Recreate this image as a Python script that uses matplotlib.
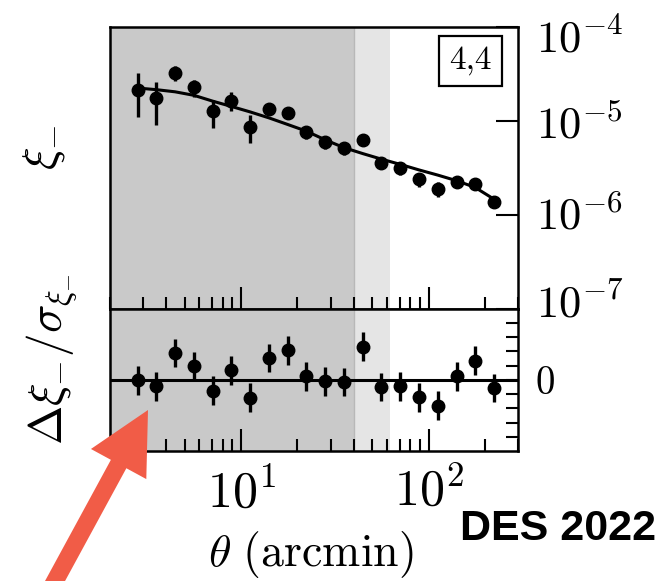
import matplotlib
matplotlib.use("Agg")
import matplotlib.pyplot as plt
import matplotlib.ticker as mticker
from matplotlib.patches import FancyArrow
from matplotlib.transforms import blended_transform_factory, offset_copy

# --- data -----------------------------------------------------------------
theta = [2.81, 3.54, 4.45, 5.61, 7.06, 8.89, 11.2, 14.1, 17.7, 22.3,
         28.1, 35.4, 44.5, 56.1, 70.6, 88.9, 112.0, 141.0, 177.0, 223.0]

xi_minus = [2.16e-5, 1.74e-5, 3.25e-5, 2.28e-5, 1.27e-5, 1.65e-5, 8.7e-6,
            1.35e-5, 1.22e-5, 7.6e-6, 6.0e-6, 5.1e-6, 6.2e-6, 3.6e-6,
            3.12e-6, 2.40e-6, 1.88e-6, 2.22e-6, 2.13e-6, 1.36e-6]

xi_minus_err = [1.06e-5, 0.84e-5, 0.60e-5, 0.48e-5, 0.42e-5, 0.37e-5, 0.29e-5,
                1.6e-6, 1.4e-6, 1.1e-6, 9.5e-7, 8.0e-7, 6.5e-7, 5.5e-7,
                4.7e-7, 4.0e-7, 3.3e-7, 2.7e-7, 2.2e-7, 1.5e-7]

xi_minus_model = [2.25e-5, 2.16e-5, 2.05e-5, 1.88e-5, 1.63e-5, 1.43e-5, 1.25e-5,
                  1.08e-5, 9.2e-6, 7.8e-6, 6.3e-6, 5.2e-6, 4.5e-6, 3.92e-6,
                  3.45e-6, 3.01e-6, 2.65e-6, 2.31e-6, 1.96e-6, 1.47e-6]

residual = [-0.05, -0.47, 1.89, 0.94, -0.76, 0.66, -1.25, 1.54, 2.06, 0.24,
            -0.12, -0.17, 2.32, -0.52, -0.47, -1.23, -1.82, 0.24, 1.35, -0.59]
residual_err = [1.0, 1.0, 1.0, 1.0, 1.0, 1.0, 1.0, 1.0, 1.0, 1.0,
                1.0, 1.0, 1.0, 1.0, 1.0, 1.0, 1.0, 1.0, 1.0, 1.0]

theta_range = [2.0, 300.0]
scale_cut_dark = 40.0      # arcmin, fully excluded scales
scale_cut_light = 62.5     # arcmin, additionally excluded scales

xi_ticks = [1e-4, 1e-5, 1e-6, 1e-7]
xi_tick_labels = [r"$10^{-4}$", r"$10^{-5}$", r"$10^{-6}$", r"$10^{-7}$"]
theta_ticks = [10, 100]
theta_tick_labels = [r"$10^{1}$", r"$10^{2}$"]
resid_ticks = [-4, -3, -2, -1, 0, 1, 2, 3, 4]
resid_tick_labels = ["", "", "", "", r"$0$", "", "", "", ""]
bin_label = "4,4"

# --- style ----------------------------------------------------------------
plt.rcParams["mathtext.fontset"] = "cm"
plt.rcParams["font.family"] = ["DejaVu Serif"]

W, H = 665, 581
fig = plt.figure(figsize=(W / 100, H / 100), dpi=100)

left, right = 110, 518
top_y, mid_y, bot_y = 27.3, 308.5, 451.0
ax_top = fig.add_axes([left / W, 1 - mid_y / H, (right - left) / W, (mid_y - top_y) / H])
ax_bot = fig.add_axes([left / W, 1 - bot_y / H, (right - left) / W, (bot_y - mid_y) / H],
                      sharex=ax_top)

dark_grey = "#c9c9c9"
light_grey = "#e5e5e5"
lw_spine = 1.8
maj_len, min_len, tick_w = 15.6, 8.4, 1.5
marker_size = 9
err_lw = 2.4

for ax in (ax_top, ax_bot):
    ax.set_xscale("log")
    ax.set_xlim(*theta_range)
    ax.axvspan(theta_range[0], scale_cut_dark, color=dark_grey, lw=0, zorder=0)
    ax.axvspan(scale_cut_dark, scale_cut_light, color=light_grey, lw=0, zorder=0)
    ax.axvline(scale_cut_dark, color="#b8b8b8", lw=1.0, zorder=0.5)
    for sp in ax.spines.values():
        sp.set_linewidth(lw_spine)
        sp.set_zorder(5)
    ax.tick_params(axis="x", which="major", direction="in", bottom=True, top=False,
                   length=maj_len, width=tick_w, color="k")
    ax.tick_params(axis="x", which="minor", direction="in", bottom=True, top=False,
                   length=min_len, width=tick_w, color="k")
    ax.xaxis.set_minor_locator(mticker.LogLocator(base=10, subs=range(2, 10), numticks=20))

# --- upper panel: xi_- ------------------------------------------------------
ax_top.set_yscale("log")
ax_top.set_ylim(1e-7, 1e-4)
ax_top.plot(theta, xi_minus_model, color="k", lw=2.2, zorder=2)
ax_top.errorbar(theta, xi_minus, yerr=xi_minus_err, fmt="o", color="k",
                ms=marker_size, elinewidth=err_lw, capsize=0, zorder=3)
ax_top.set_yticks(xi_ticks)
ax_top.yaxis.set_minor_locator(mticker.NullLocator())
ax_top.tick_params(axis="y", which="major", direction="in", left=False, right=True,
                   labelleft=False, labelright=False, length=maj_len, width=tick_w)
ax_top.tick_params(axis="x", labelbottom=False)

# right-hand decade labels, nudged vertically (offsets in points)
label_dy = [-17.8, -12.5, -10.8, -6.7]
trans = blended_transform_factory(ax_top.transAxes, ax_top.transData)
for val, lab, dy in zip(xi_ticks, xi_tick_labels, label_dy):
    ax_top.text(1.0, val, lab, fontsize=32, ha="left", va="baseline", clip_on=False,
                transform=offset_copy(trans, fig=fig, x=13.0, y=dy, units="points"))

ax_top.text(0.8836, 0.881, bin_label, transform=ax_top.transAxes, fontsize=24,
            fontfamily="cmr10", ha="center", va="center", zorder=6,
            bbox=dict(boxstyle="square,pad=0.32", fc="white", ec="k", lw=1.6))

# --- lower panel: residuals -------------------------------------------------
ax_bot.axhline(0, color="k", lw=2.2, zorder=2)
ax_bot.errorbar(theta, residual, yerr=residual_err, fmt="o", color="k",
                ms=marker_size, elinewidth=err_lw, capsize=0, zorder=3)
ax_bot.set_ylim(-5, 5)
ax_bot.set_yticks(resid_ticks, labels=resid_tick_labels)
ax_bot.tick_params(axis="y", which="major", direction="in", left=False, right=True,
                   labelleft=False, labelright=True, length=min_len, width=tick_w,
                   labelsize=28, pad=12)
ax_bot.set_xticks(theta_ticks, labels=theta_tick_labels)
ax_bot.tick_params(axis="x", which="major", labelsize=36, pad=12)

# --- axis titles -------------------------------------------------------------
fig.text(44 / W, 1 - 147 / H, r"$\xi_{-}$", rotation=90, fontsize=34,
         ha="center", va="center")
fig.text(52 / W, 1 - 359 / H, r"$\Delta\xi_{-}/\sigma_{\xi_{-}}$", rotation=90,
         fontsize=34, ha="center", va="center")
fig.text(311 / W, 1 - 555 / H, r"$\theta\ (\mathrm{arcmin})$", fontsize=33,
         ha="center", va="center")

fig.text(460 / W, 1 - 540 / H, "DES 2022", fontfamily="Liberation Sans",
         fontweight="bold", fontsize=31, ha="left", va="baseline")

# --- pointer arrow (figure inches) --------------------------------------------
arrow = FancyArrow(0.447, -0.19, 1.033, 1.90, width=0.176, head_width=0.63,
                   head_length=0.615, length_includes_head=True,
                   color="#f15c47", lw=0, transform=fig.dpi_scale_trans,
                   clip_on=False, zorder=10)
fig.add_artist(arrow)

fig.savefig("out.png", dpi=100)
